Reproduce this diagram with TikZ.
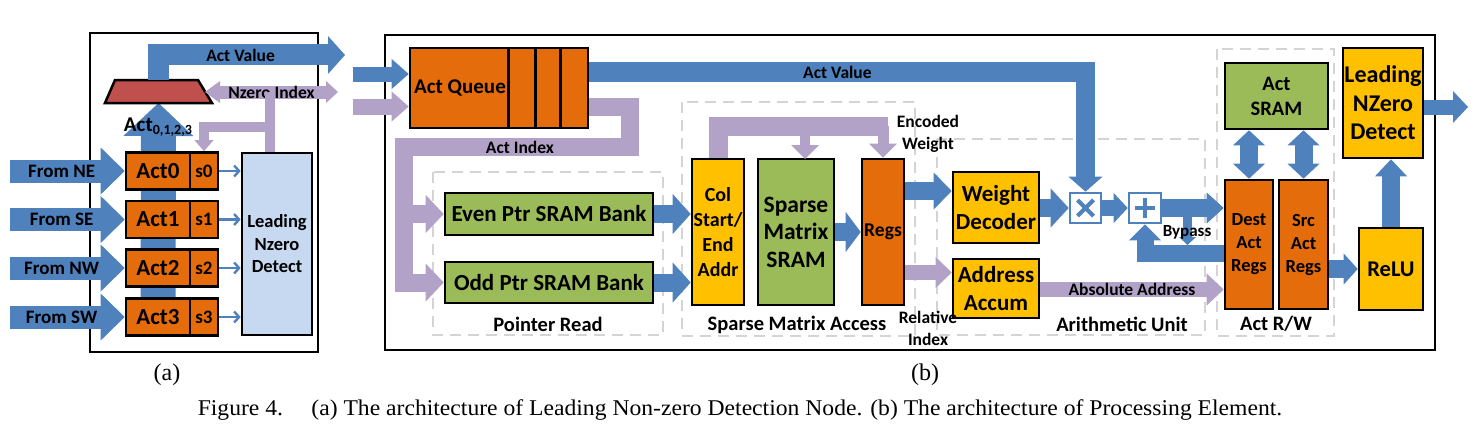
\documentclass[tikz,border=0pt]{standalone}
\usepackage{fontspec}
\setmainfont{Carlito}
\newfontfamily\capfont{Liberation Serif}
\usepackage{tikz}
\usetikzlibrary{positioning}
\usetikzlibrary{arrows.meta}
\usetikzlibrary{calc,backgrounds}

\newcommand{\fsz}[2]{\fontsize{#1}{#2}\selectfont\bfseries}

\begin{document}
\begin{tikzpicture}
    [%%%%%%%%%%%%%%%%%%%%%%%%%%%%%%
        x=1pt, y=-1pt,
        box/.style={rectangle,draw=black,line width=2.6pt,inner sep=0pt,align=center},
        sz/.style 2 args={minimum width=#1pt,minimum height=#2pt},
        bline/.style={draw=pblue,line width=#1pt},
        pline/.style={draw=ppurple,line width=#1pt},
        fat/.style 2 args={-{Triangle[length=#1pt,width=#2pt,line width=0pt]}},
        dfat/.style 2 args={{Triangle[length=#1pt,width=#2pt,line width=0pt]}-{Triangle[length=#1pt,width=#2pt,line width=0pt]}},
        thinarrow/.style={draw=pblue,line width=2.4pt,-{Straight Barb[length=5pt,width=11pt]}},
        region/.style={draw=dashgray,line width=2.4pt,dash pattern=on 11pt off 7pt},
        lbl/.style={inner sep=0pt,align=center,font=\fsz{17.5}{22}},
        reglbl/.style={inner sep=0pt,font=\fsz{20.5}{24}}
    ]%%%%%%%%%%%%%%%%%%%%%%%%%%%%%%
\definecolor{pblue}{HTML}{4F81BD}
\definecolor{ppurple}{HTML}{B3A2C7}
\definecolor{porange}{HTML}{E46C0A}
\definecolor{pgreen}{HTML}{9BBB59}
\definecolor{pyellow}{HTML}{FFC000}
\definecolor{pred}{HTML}{C0504D}
\definecolor{plightblue}{HTML}{C6D9F1}
\definecolor{dashgray}{HTML}{D4D4D4}

\useasboundingbox (0,0) rectangle (1482,436);

% (a) leading non-zero detection node
\draw[line width=2.5pt] (90,33) rectangle (318,352);

\draw[draw=black,line width=2.5pt,fill=pred,line join=miter] (105,103) -- (115,80) -- (198,80) -- (212,103) -- cycle;
\coordinate (mux-n) at (158.5,80);
\coordinate (mux-s) at (158.5,103);
\coordinate (mux-e) at (205,92);

\node[box,sz={70}{182},fill=plightblue,font=\fsz{18.5}{22.5}] (lnd) at (277,244) {Leading\\Nzero\\Detect};

\foreach \i/\y/\dir in {0/171/NE,1/219.5/SE,2/268/NW,3/317/SW}{
    \node[box,sz={64}{37},fill=porange,font=\fsz{23}{27}] (act\i) at (158,\y) {Act\i};
    \node[box,sz={28}{37},fill=porange,font=\fsz{19}{23},right=-2.6pt of act\i] (s\i) {s\i};
    \coordinate (from\i) at (10,\y);
    \draw[bline=23,fat={24}{47}] (from\i) -- node[pos=0.45,font=\fsz{19}{23}] {From \dir} (act\i.west);
    \draw[thinarrow] (s\i.east) -- (s\i.east -| lnd.west);
}

\begin{pgfonlayer}{background}
\draw[bline=35,fat={33}{70}] (act3.north) -- (mux-s);
\end{pgfonlayer}
\node[inner sep=0pt] (actlbl) at (158,127) {\fsz{21}{21}Act\fsz{14}{14}\raisebox{-3pt}{0,1,2,3}};

\coordinate (avout) at (345,55);
\draw[bline=21,fat={17}{38}] (mux-n) |- node[pos=0.72,lbl] {Act Value} (avout);

\coordinate (nzout) at (338,92);
\draw[pline=13,{Triangle[length=15pt,width=22pt,line width=0pt]}-{Triangle[length=12pt,width=22pt,line width=0pt]}]
    (mux-e) -- node[midway,lbl] {Nzero Index} (nzout);
\draw[pline=10] (lnd.north -| 270,0) -- (270,92);
\coordinate (nzs) at (270,127);
\draw[pline=10,fat={11}{19}] (nzs) -| (s0.north);

% (b) processing element
\draw[line width=2.5pt] (385,35) rectangle (1435,350);

\draw[region] (433,172) rectangle (663,335);
\draw[region] (682,102) rectangle (915,336);
\draw[region] (937,139) rectangle (1205,335);
\draw[region] (1217,49) rectangle (1334,336);

\node[box,sz={178}{80},fill=porange] (queue) at (499,88) {};
\foreach \x in {100,127,152}
    \draw[line width=2.6pt] ($(queue.north west)+(\x,1.3)$) -- ($(queue.south west)+(\x,-1.3)$);
\node[inner sep=0pt,font=\fsz{21}{25}] (qtext) at (460,88) {Act Queue};

\coordinate (inv) at (353,74);
\coordinate (ini) at (353,106.5);
\draw[bline=15,fat={17}{30}] (inv) -- (inv -| queue.west);
\draw[pline=16,fat={17}{30}] (ini) -- (ini -| queue.west);

\node[box,sz={208}{42},fill=pgreen,font=\fsz{23}{27}] (even) at (549,214) {Even Ptr SRAM Bank};
\node[box,sz={208}{41},fill=pgreen,font=\fsz{23}{27}] (odd) at (549,282.5) {Odd Ptr SRAM Bank};
\node[reglbl] (prlbl) at (548,324) {Pointer Read};

\node[box,sz={52}{146},fill=pyellow,font=\fsz{20}{25}] (col) at (718,232) {Col\\Start/\\End\\Addr};
\node[box,sz={76}{146},fill=pgreen,font=\fsz{23.5}{27.5}] (sms) at (796,232) {Sparse\\Matrix\\SRAM};
\node[box,sz={42}{146},fill=porange,font=\fsz{19.5}{24}] (regs) at (883,232) {Regs};
\node[reglbl] (smalbl) at (797,325) {Sparse Matrix Access};

\node[box,sz={86}{71},fill=pyellow,font=\fsz{23}{28}] (wd) at (996,207.5) {Weight\\Decoder};
\node[box,sz={86}{59},fill=pyellow,font=\fsz{23}{28}] (aa) at (996,288.5) {Address\\Accum};
\node[reglbl] (aulbl) at (1122,324) {Arithmetic Unit};

\node[draw=pblue,line width=2.6pt,fill=white,sz={31}{30},inner sep=0pt] (mult) at (1085.5,208) {};
\node[draw=pblue,line width=2.6pt,fill=white,sz={32}{30},inner sep=0pt] (add) at (1145,208) {};
\draw[pblue,line width=4pt] ($(mult.center)+(-8,-8)$) -- ($(mult.center)+(8,8)$)
                            ($(mult.center)+(-8,8)$) -- ($(mult.center)+(8,-8)$);
\draw[pblue,line width=4pt] ($(add.center)+(-10,0)$) -- ($(add.center)+(10,0)$)
                            ($(add.center)+(0,-10)$) -- ($(add.center)+(0,10)$);

\node[box,sz={103}{66},fill=pgreen,font=\fsz{20.5}{25}] (asram) at (1276.5,96) {Act\\SRAM};
\node[box,sz={48}{129},fill=porange,font=\fsz{18.5}{23}] (dest) at (1249,244.5) {Dest\\Act\\Regs};
\node[box,sz={49}{129},fill=porange,font=\fsz{18.5}{23}] (src) at (1303.5,244.5) {Src\\Act\\Regs};
\node[reglbl] (rwlbl) at (1276,324) {Act R/W};

\node[box,sz={64}{82},fill=pyellow,font=\fsz{22.5}{27}] (relu) at (1391,269) {ReLU};
\node[box,sz={80}{110},fill=pyellow,font=\fsz{24}{28.5}] (lnz) at (1383,103) {Leading\\NZero\\Detect};

% act value and act index
\draw[bline=19,fat={15}{34}] (queue.east |- 0,72) -| node[pos=0.25,lbl] {Act Value} (mult.north);
\coordinate (idxr) at (629.5,147);
\coordinate (idxl) at (404,147);
\draw[pline=18,fat={18}{38}] (queue.east |- 0,106.5) -| (idxr) -- node[pos=0.486,lbl] {Act Index} (idxl) |- (odd.west);
\draw[pline=18,fat={18}{38}] (idxl |- even.west) -- (even.west);

% pointer read to sparse matrix access
\draw[bline=18,fat={18}{40}] (even.east) -- (even.east -| col.west);
\draw[bline=18,fat={18}{40}] (odd.east) -- (odd.east -| col.west);
\draw[bline=18,fat={15}{40}] (sms.east) -- (regs.west);

\coordinate (encr) at (888,126);
\coordinate (smstop) at (805,159);
\draw[pline=19] (col.north) |- (encr);
\draw[pline=11,fat={14}{28}] (encr -| regs.north) -- (regs.north);
\draw[pline=10,fat={14}{28}] (smstop |- encr) -- (smstop);
\node[lbl] (encw) at (928,134) {Encoded\\Weight};

\draw[bline=18,fat={18}{37}] (regs.east |- 0,191) -- (wd.west |- 0,191);
\draw[pline=15,fat={16}{31}] (regs.east |- 0,272.5) -- (aa.west |- 0,272.5);
\node[lbl] (relidx) at (928,328) {Relative\\Index};

% arithmetic unit
\draw[bline=18,fat={18}{39}] (wd.east |- mult.west) -- (mult.west);
\draw[bline=16,fat={14}{30}] (mult.east) -- (add.west);
\draw[bline=18,fat={17}{31}] (add.east) -- (add.east -| dest.west);
\draw[bline=17,fat={16}{32}] (dest.west |- 0,253.5) -| (add.south);
\coordinate (byp) at (1187.5,216);
\draw[bline=9,fat={8}{17}] (byp) -- (byp |- 0,245);
\node[lbl,font=\fsz{17}{21}] (byplbl) at (1187,232) {Bypass};
\draw[pline=15,fat={17}{32}] (aa.east |- 0,289.5) -- node[midway,lbl] {Absolute Address} (dest.west |- 0,289.5);

% act r/w
\draw[bline=18,dfat={15}{32}] (dest.north) -- (dest.north |- asram.south);
\draw[bline=18,dfat={15}{32}] (src.north) -- (src.north |- asram.south);
\draw[bline=18,fat={14}{31}] (src.east |- relu.west) -- (relu.west);
\draw[bline=18,fat={17}{32}] (relu.north) -- (relu.north |- lnz.south);
\coordinate (pe_out) at (1468,107);
\draw[bline=15,fat={15}{32}] (lnz.east |- pe_out) -- (pe_out);

% captions
\node[inner sep=0pt,font=\capfont\fontsize{24}{24}\selectfont] (capa) at (167,375) {(a)};
\node[inner sep=0pt,font=\capfont\fontsize{24}{24}\selectfont] (capb) at (925,375) {(b)};
\node[inner sep=0pt,font=\capfont\fontsize{22.5}{22.5}\selectfont] (caption) at (740,410)
    {\scalebox{1.05}[1]{Figure 4.\hspace{27pt}(a) The architecture of Leading Non-zero Detection Node. (b) The architecture of Processing Element.}};

\end{tikzpicture}
\end{document}
